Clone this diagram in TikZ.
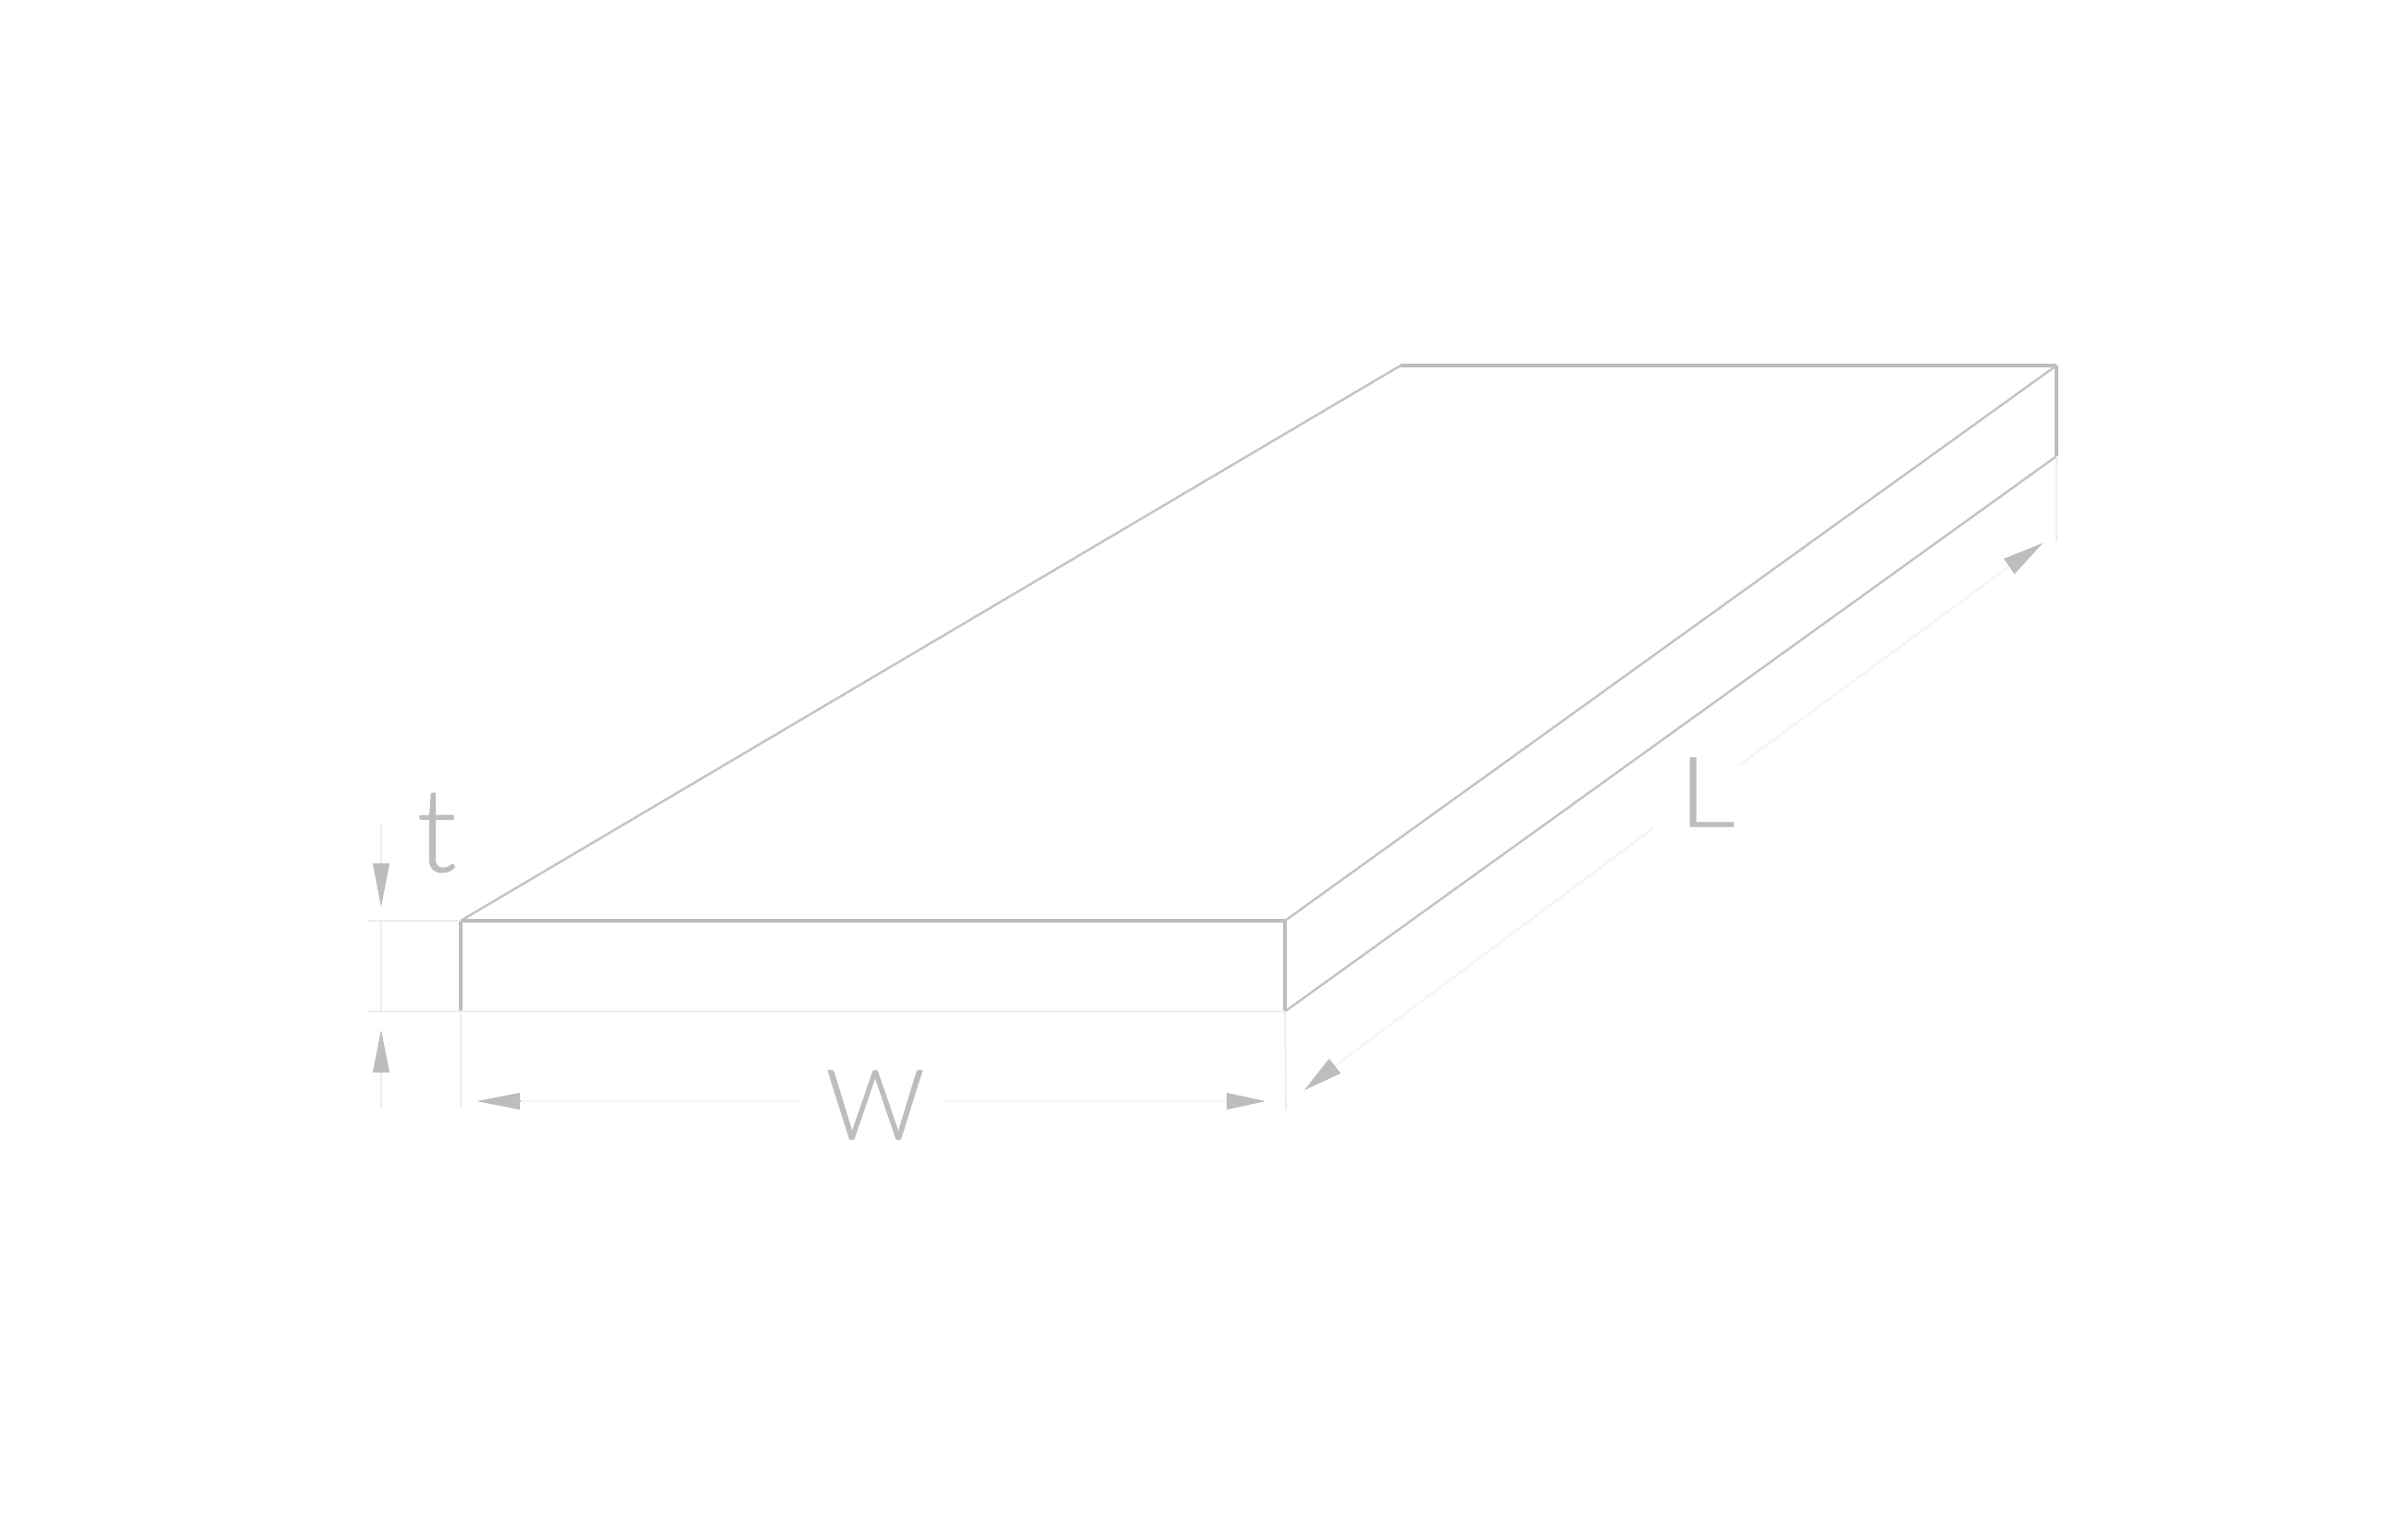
\documentclass[tikz,border=0pt]{standalone}
\usepackage{fontspec}
\setmainfont[UprightFont=* Light, FakeBold=0.6]{Lato}
\usetikzlibrary{arrows.meta}
\definecolor{edgegray}{HTML}{BDBDBD}
\definecolor{thingray}{HTML}{C4C4C4}
\definecolor{faintgray}{HTML}{EDEDED}
\definecolor{palegray}{HTML}{F5F5F5}
\tikzset{
    edgeline/.style={edgegray, line width=1.2pt},
    thinline/.style={thingray, line width=0.7pt},
    baseline/.style={faintgray, line width=0.8pt},
    dimline/.style={faintgray, line width=0.5pt},
    paleline/.style={palegray, line width=0.7pt},
    dimtip/.style={edgegray, line width=0.3pt},
    dimlabel/.style={text=edgegray, inner sep=0pt}
}
\begin{document}
\begin{tikzpicture}
    \useasboundingbox (0, 0) rectangle (26.03, -16.48);
    % plate corners
    \coordinate (FTL) at (4.98, -9.95);
    \coordinate (FTR) at (13.89, -9.95);
    \coordinate (FBL) at (4.98, -10.93);
    \coordinate (FBR) at (13.89, -10.93);
    \coordinate (BTL) at (15.14, -3.95);
    \coordinate (BTR) at (22.23, -3.95);
    \coordinate (BBR) at (22.23, -4.93);
    % plate edges
    \draw [edgeline] (FTL) -- (FTR);
    \draw [edgeline] (FTL) -- (FBL);
    \draw [edgeline] (FTR) -- (FBR);
    \draw [edgeline] (BTL) -- (BTR);
    \draw [edgeline] (BTR) -- (BBR);
    \draw [thinline] (FTL) -- (BTL);
    \draw [thinline] (FTR) -- (BTR);
    \draw [thinline] (FBR) -- (BBR);
    \draw [baseline] (FBL) -- (FBR);
    % extension lines
    \coordinate (TA) at (3.97, -9.95);
    \coordinate (TB) at (3.97, -10.93);
    \coordinate (WA) at (4.98, -11.97);
    \coordinate (WB) at (13.90, -12.00);
    \coordinate (LA) at (22.23, -5.85);
    \draw [dimline] (TA) -- (FTL);
    \draw [dimline] (TB) -- (FBL);
    \draw [dimline] (FBL) -- (WA);
    \draw [dimline] (FBR) -- (WB);
    \draw [dimline] (BBR) -- (LA);
    % t dimension
    \coordinate (T1) at (4.12, -8.90);
    \coordinate (T2) at (4.12, -9.33);
    \coordinate (T3) at (4.12, -9.95);
    \coordinate (T4) at (4.12, -10.93);
    \coordinate (T5) at (4.12, -11.57);
    \coordinate (T6) at (4.12, -11.98);
    \draw [dimline] (T1) -- (T2);
    \draw [dimline] (T3) -- (T4);
    \draw [dimline] (T5) -- (T6);
    \coordinate (T2tip) at (4.12, -9.80);
    \coordinate (T5tip) at (4.12, -11.13);
    \draw [dimtip, -{Stealth[length=0.47cm, width=0.18cm, inset=0pt]}] (T2) -- (T2tip);
    \draw [dimtip, -{Stealth[length=0.46cm, width=0.18cm, inset=0pt]}] (T5) -- (T5tip);
    % W dimension
    \coordinate (W1) at (5.62, -11.90);
    \coordinate (W1tip) at (5.15, -11.90);
    \coordinate (W2) at (13.26, -11.90);
    \coordinate (W2tip) at (13.68, -11.90);
    \coordinate (W3) at (8.67, -11.90);
    \coordinate (W4) at (10.22, -11.90);
    \draw [paleline] (W1) -- (W3);
    \draw [paleline] (W4) -- (W2);
    \draw [dimtip, -{Stealth[length=0.47cm, width=0.18cm, inset=0pt]}] (W1) -- (W1tip);
    \draw [dimtip, -{Stealth[length=0.42cm, width=0.18cm, inset=0pt]}] (W2) -- (W2tip);
    % L dimension
    \coordinate (L1) at (14.43, -11.52);
    \coordinate (L1tip) at (14.10, -11.78);
    \coordinate (L2) at (21.72, -6.12);
    \coordinate (L2tip) at (22.08, -5.87);
    \coordinate (L3) at (17.87, -8.95);
    \coordinate (L4) at (18.80, -8.27);
    \draw [paleline] (L1) -- (L3);
    \draw [paleline] (L4) -- (L2);
    \draw [dimtip, -{Stealth[length=0.42cm, width=0.2cm, inset=0pt]}] (L1) -- (L1tip);
    \draw [dimtip, -{Stealth[length=0.44cm, width=0.2cm, inset=0pt]}] (L2) -- (L2tip);
    % labels
    \node [dimlabel, font=\fontsize{36}{36}\selectfont] (tlabel) at (4.72, -9.00) {t};
    \node [dimlabel, font=\fontsize{30}{30}\selectfont] (wlabel) at (9.46, -11.94) {W};
    \node [dimlabel, font=\fontsize{30}{30}\selectfont, xscale=1.15] (llabel) at (18.45, -8.56) {L};
\end{tikzpicture}
\end{document}
